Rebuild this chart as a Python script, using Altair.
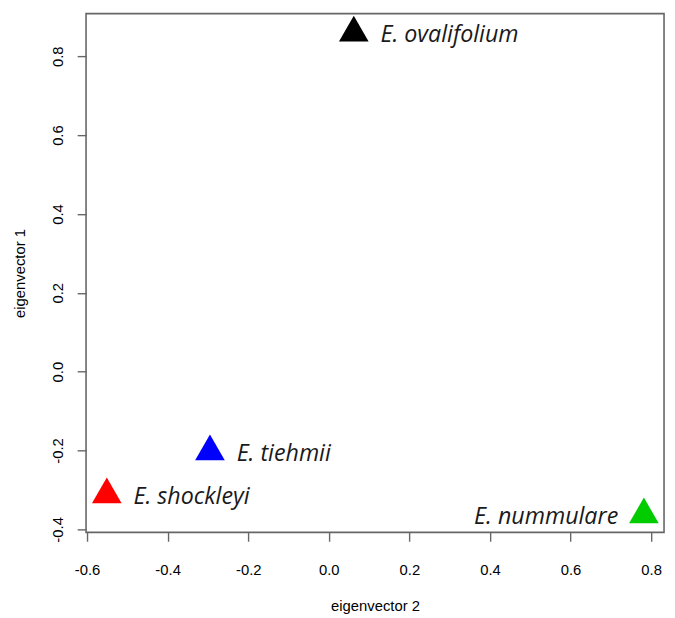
import altair as alt
import pandas as pd

species = ["E. ovalifolium", "E. tiehmii", "E. shockleyi", "E. nummulare"]
ev2 = [0.062, -0.295, -0.551, 0.782]
ev1 = [0.870, -0.192, -0.301, -0.352]
colors = ["#000000", "#0000FF", "#FF0000", "#00CC00"]
side = ["right", "right", "right", "left"]

x_ticks = [-0.6, -0.4, -0.2, 0.0, 0.2, 0.4, 0.6, 0.8]
y_ticks = [-0.4, -0.2, 0.0, 0.2, 0.4, 0.6, 0.8]

df = pd.DataFrame({"species": species, "ev2": ev2, "ev1": ev1,
                   "color": colors, "side": side})

hyphen_label = ("datum.value < 0 ? '-' + format(-datum.value, '.1f') "
                ": format(datum.value, '.1f')")

axis_common = dict(
    grid=False, domain=False, tickColor="#666666", tickWidth=1.4,
    tickSize=9, labelFont="Liberation Sans", labelFontSize=15,
    labelColor="#000000", titleFont="Liberation Sans", titleFontSize=15,
    titleFontWeight="normal", titleColor="#000000", labelExpr=hyphen_label,
)

x = alt.X("ev2:Q", title="eigenvector 2",
          scale=alt.Scale(domain=[-0.6025, 0.832], nice=False, zero=False),
          axis=alt.Axis(values=x_ticks, labelPadding=22, titlePadding=21,
                        **axis_common))
y = alt.Y("ev1:Q", title="eigenvector 1",
          scale=alt.Scale(domain=[-0.4075, 0.908], nice=False, zero=False),
          axis=alt.Axis(values=y_ticks, labelAngle=270, labelAlign="center",
                        labelBaseline="alphabetic", labelPadding=15,
                        titlePadding=23, **axis_common))

base = alt.Chart(df).encode(x=x, y=y)

points = base.mark_point(shape="triangle-up", filled=True, size=900,
                         opacity=1).encode(
    color=alt.Color("color:N", scale=None))

text_font = dict(font="Open Sans", fontStyle="italic", fontSize=23.5,
                 color="#1a1a1a", baseline="middle", dy=7)

labels_r = base.transform_filter(alt.datum.side == "right").mark_text(
    align="left", dx=27, **text_font).encode(text="species:N")
labels_l = base.transform_filter(alt.datum.side == "left").mark_text(
    align="right", dx=-26, **text_font).encode(text="species:N")

chart = alt.layer(points, labels_r, labels_l).properties(
    width=585, height=525,
    background="#ffffff",
    autosize=alt.AutoSizeParams(type="none"),
    padding={"left": 79, "top": 2, "right": 3, "bottom": 83},
).configure_view(stroke="#666666", strokeWidth=1.6)

chart.save("out.html", embed_options={"renderer": "svg", "actions": False})
